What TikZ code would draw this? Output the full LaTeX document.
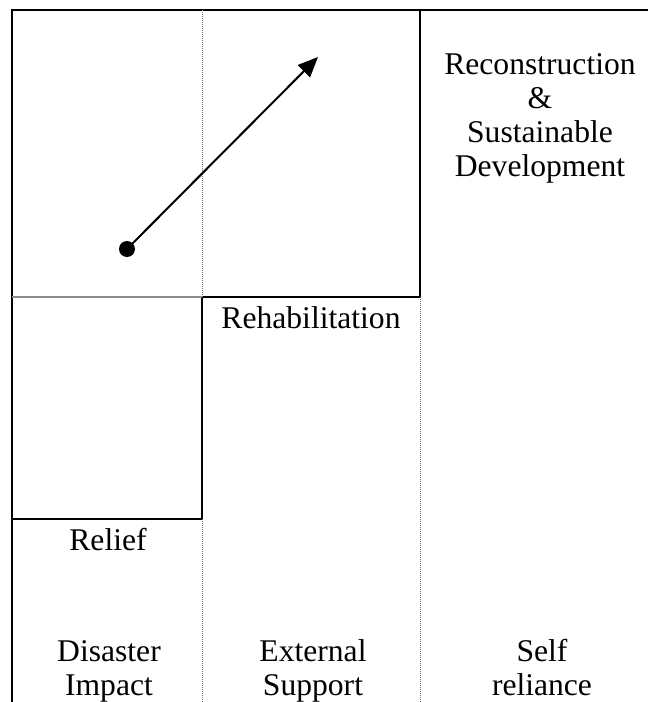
\documentclass[tikz,border=0pt]{standalone}
\usepackage{fontspec}
\setmainfont{Liberation Serif}
\usetikzlibrary{arrows.meta}

\begin{document}
\begin{tikzpicture}[
  x=0.5pt, y=-0.5pt,
  solidline/.style={draw=black, line width=1pt},
  greyline/.style={draw=black!45, line width=1pt},
  dotline/.style={draw=black!55, line width=0.5pt, dash pattern=on 0.5pt off 0.5pt},
  phase/.style={inner sep=0pt, align=center, font=\fontsize{15.8}{17}\selectfont},
  dotnode/.style={circle, fill=black, inner sep=0pt, minimum size=8pt},
  font=\fontsize{15.8}{17}\selectfont
]
\useasboundingbox (0,0) rectangle (648,702);

% Frame and steps
\draw[solidline] (12,702) -- (12,10) -- (648,10);
\draw[solidline] (420,10) -- (420,297) -- (202,297) -- (202,519) -- (12,519);
\draw[greyline] (12,297) -- (202,297);
\draw[dotline] (202,10) -- (202,297);
\draw[dotline] (202,519) -- (202,702);
\draw[dotline] (420,297) -- (420,702);

% Phases (base = last line)
\node[phase, anchor=base] (relief) at (108,550) {Relief};
\node[phase, anchor=base] (rehab) at (311,328) {Rehabilitation};
\node[phase, anchor=base] (recon) at (540,176) {Reconstruction\\\&\\Sustainable\\Development};

% Columns
\node[phase, anchor=base] (impact) at (109,695) {Disaster\\Impact};
\node[phase, anchor=base] (support) at (313,695) {External\\Support};
\node[phase, anchor=base] (reliance) at (542,695) {Self\\reliance};

% Progress arrow
\node[dotnode] (start) at (127,249) {};
\coordinate (tip) at (318,57);
\draw[line width=1pt, -{Triangle[length=10pt,width=8.5pt]}] (start.center) -- (tip);
\end{tikzpicture}
\end{document}
